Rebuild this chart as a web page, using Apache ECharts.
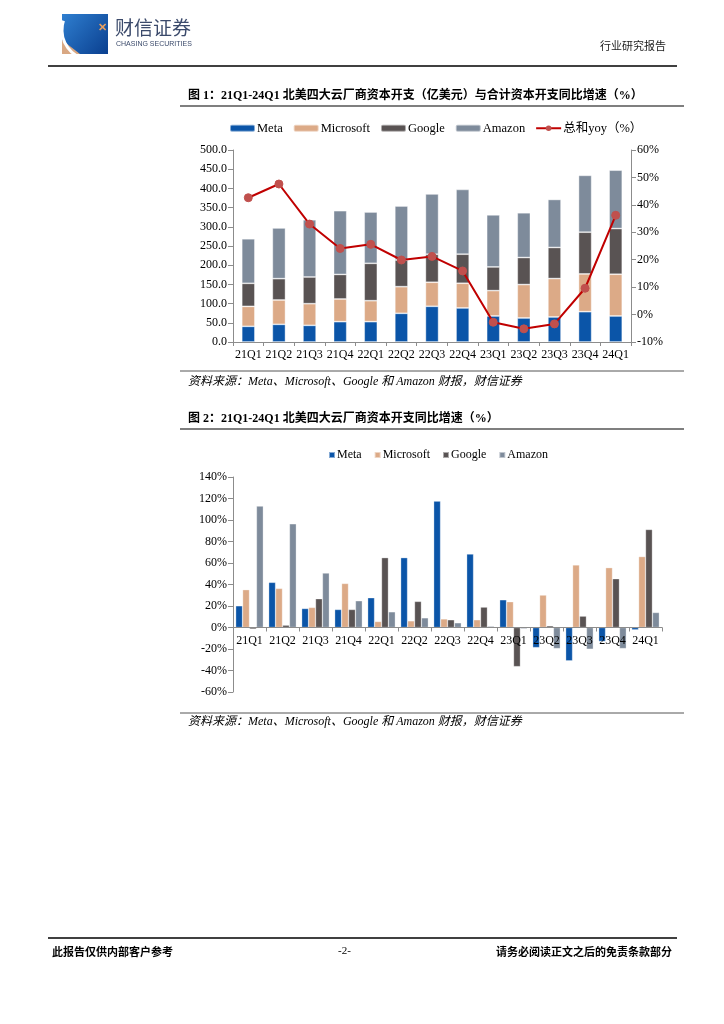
<!DOCTYPE html>
<html><head><meta charset="utf-8">
<script src="https://cdn.jsdelivr.net/npm/echarts@6/dist/echarts.min.js"></script>
<style>html,body{margin:0;padding:0;background:#fff}#c{width:724px;height:1024px}</style>
</head><body><div id="c"></div>
<script>
const categories = ['21Q1','21Q2','21Q3','21Q4','22Q1','22Q2','22Q3','22Q4','23Q1','23Q2','23Q3','23Q4','24Q1'];
// Chart 1: capex (亿美元)
const capexMeta      = [40.8, 46.0, 43.4, 53.0, 53.0, 74.7, 93.0, 88.7, 67.8, 62.6, 65.2, 79.0, 67.8];
const capexMicrosoft = [52.0, 63.4, 56.4, 59.0, 54.6, 69.4, 62.6, 64.3, 66.0, 87.0, 100.0, 98.3, 108.7];
const capexGoogle    = [60.0, 55.6, 69.5, 64.0, 97.3, 69.4, 73.0, 75.7, 61.7, 70.4, 81.0, 108.7, 119.0];
const capexAmazon    = [116.0, 132.0, 149.0, 166.0, 133.6, 140.6, 157.0, 168.6, 135.6, 116.5, 125.0, 148.0, 152.0];
const totalYoy       = [42.6, 47.6, 33.0, 24.1, 25.6, 19.9, 21.2, 15.9, -2.8, -5.2, -3.4, 9.6, 36.2];
// Chart 2: yoy (%)
const yoyMeta      = [20.2, 42.0, 17.7, 16.8, 27.7, 65.0, 117.6, 68.4, 25.8, -18.7, -31.0, -13.0, -2.2];
const yoyMicrosoft = [35.2, 36.4, 18.7, 41.0, 5.6, 6.2, 8.0, 7.2, 24.0, 30.2, 58.2, 55.7, 66.0];
const yoyGoogle    = [-1.5, 2.2, 26.8, 16.8, 65.0, 24.3, 7.2, 19.0, -36.4, 1.6, 10.6, 45.4, 91.2];
const yoyAmazon    = [113.0, 96.5, 50.7, 24.9, 14.6, 9.0, 4.4, 1.2, -1.2, -19.6, -20.2, -19.6, 14.0];

const C = {meta:'#0b55a8', ms:'#dcaa87', g:'#595353', a:'#7e8b9b', line:'#c00000', dot:'#c0504d'};
const serif = '"Liberation Serif","Times New Roman",serif';
const cjk = '"Liberation Serif","Noto Sans CJK SC",serif';

const chart = echarts.init(document.getElementById('c'), null, {renderer:'canvas'});

function bar1(name, data, color){
  return {name, type:'bar', stack:'capex', data, xAxisIndex:0, yAxisIndex:0, barWidth:'43%',
    itemStyle:{color, borderColor:'rgba(255,255,255,0.5)', borderWidth:0.8}};
}
function bar2(name, data, color){
  return {name, type:'bar', data, xAxisIndex:1, yAxisIndex:2, barGap:'0%', barCategoryGap:'16%',
    itemStyle:{color, borderColor:'rgba(255,255,255,0.5)', borderWidth:0.6}};
}
const axisLineStyle = {show:true, lineStyle:{color:'#8c8c8c', width:1}};
const axisLabelBase = {color:'#000', fontFamily:serif, fontSize:12};
// zero line offset for chart 2 x-axis (grid top 477, height 215, range -60..140)
const zeroOffset = -(215 * 60 / 200);

const option = {
  animation:false,
  backgroundColor:'#fff',
  textStyle:{fontFamily:cjk},
  legend:[
    {data:['Meta','Microsoft','Google','Amazon','总和yoy（%）'],
     left:224, top:117, itemWidth:25, itemHeight:7, itemGap:10,
     textStyle:{color:'#000', fontFamily:cjk, fontSize:12.5, padding:[0,0,0,-3]}},
    {data:['Meta ','Microsoft ','Google ','Amazon '], left:323, top:444, itemWidth:6, itemHeight:6, itemGap:9,
     icon:'rect', textStyle:{color:'#000', fontFamily:serif, fontSize:12, padding:[0,0,0,-3]}}
  ],
  grid:[
    {left:233, top:150, width:398, height:192, containLabel:false},
    {left:233, top:477, width:429, height:215, containLabel:false}
  ],
  xAxis:[
    {type:'category', gridIndex:0, data:categories, boundaryGap:true,
     axisLine:axisLineStyle, axisTick:{show:true, length:4, lineStyle:{color:'#8c8c8c'}, alignWithLabel:false},
     axisLabel:Object.assign({}, axisLabelBase, {margin:7, interval:0})},
    {type:'category', gridIndex:1, data:categories, boundaryGap:true, position:'bottom', offset:zeroOffset,
     axisLine:Object.assign({onZero:false}, axisLineStyle), axisTick:{show:true, length:4, lineStyle:{color:'#8c8c8c'}},
     axisLabel:Object.assign({}, axisLabelBase, {margin:7, interval:0}), z:10}
  ],
  yAxis:[
    {type:'value', gridIndex:0, min:0, max:500, interval:50, splitLine:{show:false},
     axisLine:axisLineStyle, axisTick:{show:true, length:5, lineStyle:{color:'#8c8c8c'}},
     axisLabel:Object.assign({}, axisLabelBase, {margin:6, formatter:v=>v.toFixed(1)})},
    {type:'value', gridIndex:0, position:'right', min:-10, max:60, interval:10, splitLine:{show:false},
     axisLine:axisLineStyle, axisTick:{show:true, length:5, lineStyle:{color:'#8c8c8c'}},
     axisLabel:Object.assign({}, axisLabelBase, {margin:6, formatter:'{value}%'})},
    {type:'value', gridIndex:1, min:-60, max:140, interval:20, splitLine:{show:false},
     axisLine:axisLineStyle, axisTick:{show:true, length:5, lineStyle:{color:'#8c8c8c'}},
     axisLabel:Object.assign({}, axisLabelBase, {margin:6, formatter:'{value}%'})}
  ],
  series:[
    bar1('Meta', capexMeta, C.meta),
    bar1('Microsoft', capexMicrosoft, C.ms),
    bar1('Google', capexGoogle, C.g),
    bar1('Amazon', capexAmazon, C.a),
    {name:'总和yoy（%）', type:'line', data:totalYoy, xAxisIndex:0, yAxisIndex:1, symbol:'circle', symbolSize:8,
     lineStyle:{color:C.line, width:2}, itemStyle:{color:C.dot, borderColor:C.dot}, z:5},
    bar2('Meta ', yoyMeta, C.meta),
    bar2('Microsoft ', yoyMicrosoft, C.ms),
    bar2('Google ', yoyGoogle, C.g),
    bar2('Amazon ', yoyAmazon, C.a)
  ],
  graphic:[
    // logo
    {type:'rect', shape:{x:62, y:14, width:46, height:40}, style:{fill:new echarts.graphic.LinearGradient(0,0,1,1,[{offset:0,color:'#2f7fd0'},{offset:1,color:'#0a3f8f'}])}},
    {type:'polygon', shape:{points:[[62,40],[62,54],[80,54]]}, style:{fill:'#d9a883'}},
    {type:'arc', shape:{cx:92, cy:30, r:30, startAngle:Math.PI*0.55, endAngle:Math.PI*1.1}, style:{stroke:'#fff', lineWidth:3, fill:null}},
    {type:'text', left:98, top:22, style:{text:'✕', fill:'#e8a060', font:'bold 11px sans-serif'}},
    {type:'text', left:115, top:18, style:{text:'财信证券', fill:'#3b4a6b', font:'19px "Noto Sans CJK SC"'}},
    {type:'text', left:116, top:41, style:{text:'CHASING SECURITIES', fill:'#3b4a6b', font:'7px "Liberation Sans"'}},
    {type:'text', right:58, top:40, style:{text:'行业研究报告', fill:'#222', font:'11px "Noto Sans CJK SC"'}},
    {type:'line', shape:{x1:48, y1:66, x2:677, y2:66}, style:{stroke:'#000', lineWidth:1.5}},
    // figure 1
    {type:'text', left:188, top:90, style:{text:'图 1：21Q1-24Q1 北美四大云厂商资本开支（亿美元）与合计资本开支同比增速（%）', fill:'#000', font:'bold 12px "Liberation Serif","Noto Sans CJK SC"'}},
    {type:'line', shape:{x1:180, y1:106, x2:684, y2:106}, style:{stroke:'#000', lineWidth:1.2}},
    {type:'line', shape:{x1:180, y1:371, x2:684, y2:371}, style:{stroke:'#555', lineWidth:1}},
    {type:'text', left:188, top:376, style:{text:'资料来源：Meta、Microsoft、Google 和 Amazon 财报，财信证券', fill:'#000', font:'italic 12px "Liberation Serif","Noto Sans CJK SC"'}},
    // figure 2
    {type:'text', left:188, top:413, style:{text:'图 2：21Q1-24Q1 北美四大云厂商资本开支同比增速（%）', fill:'#000', font:'bold 12px "Liberation Serif","Noto Sans CJK SC"'}},
    {type:'line', shape:{x1:180, y1:429, x2:684, y2:429}, style:{stroke:'#000', lineWidth:1.2}},
    {type:'line', shape:{x1:180, y1:713, x2:684, y2:713}, style:{stroke:'#555', lineWidth:1}},
    {type:'text', left:188, top:716, style:{text:'资料来源：Meta、Microsoft、Google 和 Amazon 财报，财信证券', fill:'#000', font:'italic 12px "Liberation Serif","Noto Sans CJK SC"'}},
    // footer
    {type:'line', shape:{x1:48, y1:938, x2:677, y2:938}, style:{stroke:'#000', lineWidth:1.5}},
    {type:'text', left:52, top:946, style:{text:'此报告仅供内部客户参考', fill:'#000', font:'bold 11px "Noto Sans CJK SC"'}},
    {type:'text', left:338, top:946, style:{text:'-2-', fill:'#000', font:'11px "Liberation Serif"'}},
    {type:'text', right:52, top:946, style:{text:'请务必阅读正文之后的免责条款部分', fill:'#000', font:'bold 11px "Noto Sans CJK SC"'}}
  ]
};
chart.setOption(option);
</script></body></html>
